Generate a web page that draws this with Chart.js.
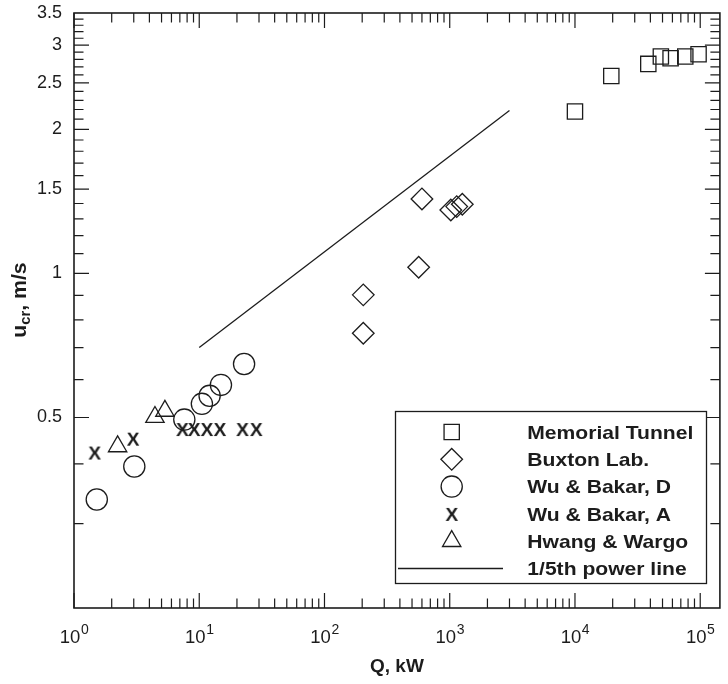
<!DOCTYPE html>
<html><head><meta charset="utf-8">
<script src="https://cdn.jsdelivr.net/npm/chart.js@4.4.1/dist/chart.umd.min.js"></script>
<style>html,body{margin:0;padding:0;background:#fff;overflow:hidden;}canvas{display:block;}</style>
</head><body>
<div style="width:732px;height:684px"><canvas id="c" width="732" height="684"></canvas></div>
<script>
// ---- data ----
const memorialQ = [10000, 19500, 38500, 48500, 58000, 76000, 97000];
const memorialU = [2.18, 2.585, 2.74, 2.84, 2.815, 2.84, 2.87];
const buxtonQ = [204, 204, 565, 600, 1020, 1137, 1260];
const buxtonU = [0.75, 0.902, 1.03, 1.431, 1.357, 1.379, 1.395];
const wuDQ = [1.52, 3.03, 7.6, 10.5, 12.1, 14.9, 22.8];
const wuDU = [0.337, 0.395, 0.495, 0.534, 0.555, 0.585, 0.647];
const wuAQ = [1.46, 2.96, 7.33, 9.1, 11.5, 14.6, 22.1, 28.5];
const wuAU = [0.4225, 0.4516, 0.473, 0.473, 0.473, 0.473, 0.473, 0.473];
const hwangQ = [2.23, 4.43, 5.32];
const hwangU = [0.435, 0.501, 0.516];
const powerQ = [10, 3000];
const powerU = [0.70, 2.19];
const seriesLabels = ['Memorial Tunnel', 'Buxton Lab.', 'Wu & Bakar, D', 'Wu & Bakar, A', 'Hwang & Wargo', '1/5th power line'];
const xDecades = [0, 1, 2, 3, 4, 5];
const xMinorMult = [2, 3, 4, 5, 6, 7, 8, 9];
const yLabelTicks = [0.5, 1, 1.5, 2, 2.5, 3, 3.5];
const yMajorTicks = [0.5, 1, 1.5, 2, 2.5, 3];
const yMinorTicks = [0.3, 0.4, 0.6, 0.7, 0.8, 0.9, 1.1, 1.2, 1.3, 1.4, 1.6, 1.7, 1.8, 1.9,
  2.1, 2.2, 2.3, 2.4, 2.6, 2.7, 2.8, 2.9, 3.1, 3.2, 3.3, 3.4];
const xTitle = 'Q, kW';

const INK = '#1c1c1c';
const FONT = '"Liberation Sans", Arial, Helvetica, sans-serif';

function makeXGlyph() {
  const c = document.createElement('canvas');
  c.width = 20; c.height = 20;
  const g = c.getContext('2d');
  g.fillStyle = INK;
  g.font = 'bold 19px ' + FONT;
  g.textAlign = 'center';
  g.textBaseline = 'alphabetic';
  g.fillText('X', 10, 10 + 6.8);
  return c;
}
const xGlyph = makeXGlyph();

const pts = (xs, ys) => xs.map((x, i) => ({x: x, y: ys[i]}));
const marker = (label, xs, ys, style, r) => ({
  label, data: pts(xs, ys), pointStyle: style, pointRadius: r, pointHoverRadius: r,
  borderColor: INK, backgroundColor: 'rgba(0,0,0,0)', pointBorderWidth: 1.3, borderWidth: 1.3,
  showLine: false, clip: false
});

const datasets = [
  marker(seriesLabels[0], memorialQ, memorialU, 'rect', 10.8),
  marker(seriesLabels[1], buxtonQ, buxtonU, 'rectRot', 10.8),
  marker(seriesLabels[2], wuDQ, wuDU, 'circle', 10.6),
  marker(seriesLabels[3], wuAQ, wuAU, xGlyph, 10),
  marker(seriesLabels[4], hwangQ, hwangU, 'triangle', 10.6),
  {label: seriesLabels[5], data: pts(powerQ, powerU), showLine: true, pointRadius: 0,
   borderColor: INK, borderWidth: 1.3, backgroundColor: INK, isLine: true, clip: false}
];

const decor = {
  id: 'decor',
  beforeDatasetsDraw(chart) {
    const ctx = chart.ctx, a = chart.chartArea, xs = chart.scales.x, ys = chart.scales.y;
    ctx.save();
    ctx.strokeStyle = INK;
    ctx.lineWidth = 1.2;
    ctx.beginPath();
    const xT = (v, len) => {
      const p = xs.getPixelForValue(v);
      ctx.moveTo(p, a.bottom); ctx.lineTo(p, a.bottom - len);
      ctx.moveTo(p, a.top); ctx.lineTo(p, a.top + len);
    };
    const yT = (v, len) => {
      const p = ys.getPixelForValue(v);
      ctx.moveTo(a.left, p); ctx.lineTo(a.left + len, p);
      ctx.moveTo(a.right, p); ctx.lineTo(a.right - len, p);
    };
    xDecades.forEach(d => {
      xT(Math.pow(10, d), 15);
      xMinorMult.forEach(m => { const v = m * Math.pow(10, d); if (v < xs.max) xT(v, 9.5); });
    });
    yMajorTicks.forEach(v => yT(v, 15));
    yMinorTicks.forEach(v => yT(v, 9.5));
    ctx.stroke();
    ctx.lineWidth = 1.6;
    ctx.strokeRect(a.left, a.top, a.right - a.left, a.bottom - a.top);
    ctx.restore();
  },
  afterDraw(chart) {
    const ctx = chart.ctx, a = chart.chartArea, xs = chart.scales.x;
    ctx.save();
    ctx.fillStyle = INK;
    ctx.textBaseline = 'alphabetic';
    ctx.textAlign = 'left';
    // x tick labels 10^n
    xDecades.forEach(d => {
      const p = xs.getPixelForValue(Math.pow(10, d));
      ctx.font = '18.5px ' + FONT;
      const wb = ctx.measureText('10').width;
      ctx.font = '14px ' + FONT;
      const we = ctx.measureText(String(d)).width;
      const s = p - (wb + we) / 2;
      ctx.font = '18.5px ' + FONT;
      ctx.fillText('10', s, 643);
      ctx.font = '14px ' + FONT;
      ctx.fillText(String(d), s + wb + 0.5, 634);
    });
    // y title with subscript
    ctx.save();
    ctx.translate(26, 300);
    ctx.rotate(-Math.PI / 2);
    ctx.scale(1.06, 1);
    ctx.font = 'bold 20px ' + FONT;
    const wu = ctx.measureText('u').width;
    const wr = ctx.measureText(', m/s').width;
    ctx.font = 'bold 14px ' + FONT;
    const wc = ctx.measureText('cr').width;
    let s = -(wu + wc + wr) / 2;
    ctx.font = 'bold 20px ' + FONT;
    ctx.fillText('u', s, 0);
    ctx.font = 'bold 14px ' + FONT;
    ctx.fillText('cr', s + wu, 4);
    ctx.font = 'bold 20px ' + FONT;
    ctx.fillText(', m/s', s + wu + wc, 0);
    ctx.restore();
    // legend
    const L = {x: 395.5, y: 411.5, w: 311, h: 172};
    ctx.fillStyle = '#fff';
    ctx.fillRect(L.x, L.y, L.w, L.h);
    ctx.strokeStyle = INK;
    ctx.lineWidth = 1.3;
    ctx.strokeRect(L.x, L.y, L.w, L.h);
    chart.data.datasets.forEach((ds, i) => {
      const cy = 432 + i * 27.3;
      ctx.strokeStyle = ds.borderColor;
      ctx.fillStyle = 'rgba(0,0,0,0)';
      if (ds.isLine) {
        ctx.lineWidth = ds.borderWidth;
        ctx.beginPath(); ctx.moveTo(398, cy); ctx.lineTo(503, cy); ctx.stroke();
      } else {
        ctx.lineWidth = ds.pointBorderWidth;
        Chart.helpers.drawPoint(ctx, {pointStyle: ds.pointStyle, radius: ds.pointRadius,
          borderWidth: ds.pointBorderWidth, rotation: 0}, 451.7, cy);
      }
      ctx.fillStyle = INK;
      ctx.font = 'bold 19px ' + FONT;
      ctx.save();
      ctx.translate(527.3, cy + 6.7);
      ctx.scale(1.11, 1);
      ctx.fillText(ds.label, 0, 0);
      ctx.restore();
    });
    ctx.restore();
  }
};

new Chart(document.getElementById('c'), {
  type: 'scatter',
  data: {datasets},
  options: {
    responsive: false, animation: false, devicePixelRatio: 1,
    layout: {padding: {left: 0, top: 13, right: 2, bottom: 0}},
    plugins: {legend: {display: false}, tooltip: {enabled: false}},
    scales: {
      x: {
        type: 'logarithmic', min: 1, max: 143600,
        grid: {display: false, drawTicks: false}, border: {display: false},
        ticks: {display: false},
        title: {display: true, text: xTitle, color: INK,
          font: {family: FONT, size: 19, weight: 'bold'}, padding: {top: 0, bottom: 6}},
        afterFit(s) { s.height = 76; s.paddingLeft = 0; s.paddingRight = 0; }
      },
      y: {
        type: 'logarithmic', min: 0.2, max: 3.5,
        grid: {display: false, drawTicks: false}, border: {display: false},
        ticks: {color: INK, font: {family: FONT, size: 18}, padding: 12, autoSkip: false,
          callback: v => String(v)},
        afterBuildTicks(s) { s.ticks = yLabelTicks.map(v => ({value: v})); },
        afterFit(s) { s.width = 74; s.paddingTop = 0; s.paddingBottom = 0; }
      }
    }
  },
  plugins: [decor]
});
</script>
</body></html>
